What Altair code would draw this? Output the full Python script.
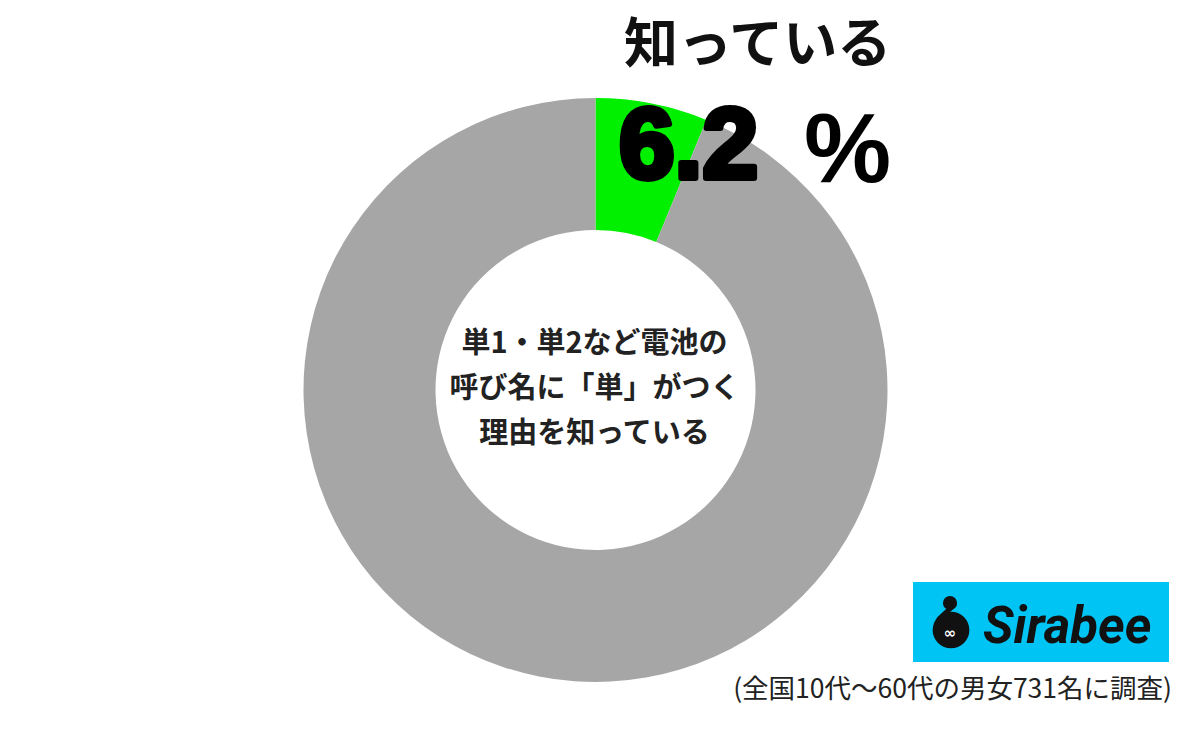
import altair as alt
import pandas as pd

# ---- data ----
labels = ["知っている", "その他"]
values = [6.2, 93.8]
colors = ["#00F000", "#A6A6A6"]
headline = "知っている"
headline_number = "6.2"
headline_unit = "%"
question = ["単1・単2など電池の", "呼び名に「単」がつく", "理由を知っている"]
note = "(全国10代～60代の男女731名に調査)"
brand = "Sirabee"

W, H = 1184, 713
cx, cy = 587.5, 382

df = pd.DataFrame({"label": labels, "value": values, "idx": list(range(len(labels)))})
one = pd.DataFrame({"a": [0]})

donut = alt.Chart(df).mark_arc(innerRadius=160, outerRadius=292).encode(
    theta=alt.Theta("value:Q", stack=True),
    color=alt.Color("label:N", scale=alt.Scale(domain=labels, range=colors), legend=None),
    order=alt.Order("idx:Q"),
    x=alt.value(cx),
    y=alt.value(cy),
)

center = alt.Chart(one).mark_text(
    font="Noto Sans CJK JP", fontWeight="bold", fontSize=29, lineHeight=45,
    align="center", baseline="middle", color="#222222", lineBreak="\n",
).encode(text=alt.value("\n".join(question)), x=alt.value(cx - 1), y=alt.value(cy - 46))

title = alt.Chart(one).mark_text(
    font="Noto Sans CJK JP", fontWeight="bold", fontSize=54,
    align="left", baseline="middle", color="#111111",
).encode(text=alt.value(headline), x=alt.value(616), y=alt.value(39))

big_num = alt.Chart(one).mark_text(
    font="Liberation Sans", fontWeight="bold", fontSize=100,
    align="left", baseline="alphabetic", color="#000000", stroke="#000000", strokeWidth=6,
    strokeJoin="round",
).encode(text=alt.value(headline_number), x=alt.value(611), y=alt.value(170))

big_unit = alt.Chart(one).mark_text(
    font="Liberation Sans", fontWeight="bold", fontSize=98,
    align="left", baseline="alphabetic", color="#000000",
).encode(text=alt.value(headline_unit), x=alt.value(796), y=alt.value(174))

foot = alt.Chart(one).mark_text(
    font="Noto Sans CJK JP", fontSize=26.5,
    align="right", baseline="middle", color="#222222",
).encode(text=alt.value(note), x=alt.value(1164), y=alt.value(682))

logo_bg = alt.Chart(one).mark_rect(color="#00C4F4").encode(
    x=alt.value(905), x2=alt.value(1161), y=alt.value(574), y2=alt.value(654))

logo_big = alt.Chart(one).mark_point(filled=True, shape="circle", color="#111111", opacity=1).encode(
    x=alt.value(943), y=alt.value(622), size=alt.value(1350))
logo_small = alt.Chart(one).mark_point(filled=True, shape="circle", color="#111111", opacity=1).encode(
    x=alt.value(942), y=alt.value(595), size=alt.value(200))
logo_hook = alt.Chart(one).mark_rule(color="#111111", strokeWidth=5, strokeCap="round").encode(
    x=alt.value(946), x2=alt.value(931), y=alt.value(597), y2=alt.value(611))
logo_eyes = alt.Chart(one).mark_text(font="DejaVu Sans", fontSize=15, fontWeight="bold", color="#FFFFFF",
    align="center", baseline="middle").encode(text=alt.value("∞"), x=alt.value(942), y=alt.value(625))

logo_text = alt.Chart(one).mark_text(
    font="Roboto", fontWeight="bold", fontStyle="italic", fontSize=51,
    align="left", baseline="middle", color="#111111",
).encode(text=alt.value(brand), x=alt.value(975), y=alt.value(620))

chart = alt.layer(
    donut, center, title, big_num, big_unit, logo_bg, logo_big, logo_small, logo_hook, logo_eyes, logo_text, foot
).properties(
    width=W, height=H, autosize=alt.AutoSizeParams(type="none"), padding=0, background="white"
).configure_view(stroke=None)

chart.save("out.html", embed_options={"renderer": "svg", "actions": False})
